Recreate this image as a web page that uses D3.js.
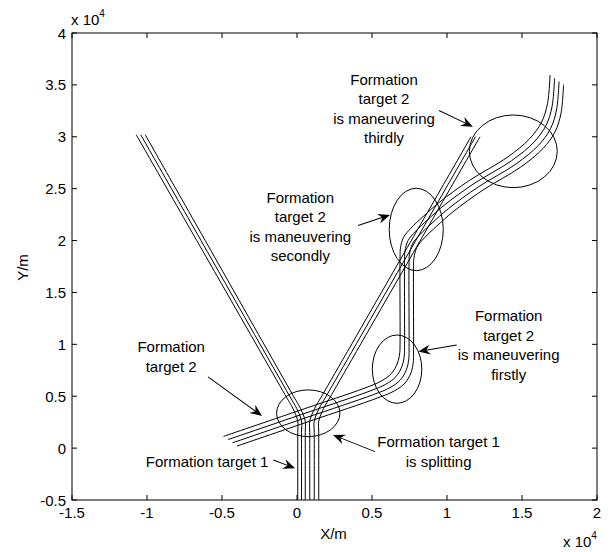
<!DOCTYPE html>
<html>
<head>
<meta charset="utf-8">
<script src="https://cdn.jsdelivr.net/npm/d3@7"></script>
<style>
  body { margin: 0; background: #fff; }
  svg { display: block; }
  text { font-family: "Liberation Sans", Arial, sans-serif; fill: #000; }
</style>
</head>
<body>
<svg id="chart" width="612" height="552"></svg>
<script>
// Axis ticks, in units of 10^4 m
const xTicks = [-1.5, -1, -0.5, 0, 0.5, 1, 1.5, 2];
const yTicks = [-0.5, 0, 0.5, 1, 1.5, 2, 2.5, 3, 3.5, 4];
const xTickLabels = ["-1.5", "-1", "-0.5", "0", "0.5", "1", "1.5", "2"];
const yTickLabels = ["-0.5", "0", "0.5", "1", "1.5", "2", "2.5", "3", "3.5", "4"];

// Formation target 1: six members heading north, splitting into two groups of three
const t1StartX = [0.005, 0.03, 0.055, 0.085, 0.115, 0.145];
const t1StartY = [-0.5, -0.5, -0.5, -0.5, -0.5, -0.5];
const t1SplitY = [0.3, 0.3, 0.3, 0.3, 0.3, 0.3];
const t1EndX = [-1.072, -1.042, -1.012, 1.16, 1.19, 1.22];
const t1EndY = [3.02, 3.02, 3.02, 3.0, 3.0, 3.0];

// Formation target 2: route of the lead member (three manoeuvres)
const t2RouteX = [-0.49, 0.0, 0.45, 0.56, 0.63, 0.67, 0.685, 0.687, 0.687, 0.69, 0.71, 0.76, 0.84, 0.95, 1.15, 1.40, 1.55, 1.63, 1.67, 1.687];
const t2RouteY = [0.113, 0.355, 0.578, 0.645, 0.72, 0.82, 0.92, 1.0, 1.85, 1.93, 2.03, 2.12, 2.23, 2.37, 2.58, 2.80, 2.98, 3.14, 3.32, 3.595];
// Offsets of the four members from the lead
const t2OffsetX = [0, 0.03, 0.06, 0.09];
const t2OffsetY = [0, -0.031, -0.062, -0.093];

// Event ellipses: centre and radii
const ellCX = [0.075, 0.667, 0.795, 1.442];
const ellCY = [0.336, 0.761, 2.107, 2.86];
const ellRX = [0.211, 0.165, 0.18, 0.293];
const ellRY = [0.225, 0.329, 0.397, 0.35];

// Annotation arrows: tail -> tip
const arrTailX = [-0.593, -0.158, 0.52, 1.065, 0.407, 0.947];
const arrTailY = [0.686, -0.114, -0.034, 0.994, 2.145, 3.253];
const arrTipX = [-0.233, -0.013, 0.24, 0.809, 0.62, 1.173];
const arrTipY = [0.310, -0.194, 0.127, 0.93, 2.247, 3.097];

// Annotation texts: anchor point of the first line, alignment, lines
const noteX = [0.58, 0.022, 1.411, -0.839, 0.944, -0.191];
const noteY = [3.552, 2.415, 1.274, 0.975, 0.06, -0.127];
const noteAnchor = ["middle", "middle", "middle", "middle", "middle", "end"];
const noteLines = [
  ["Formation", "target 2", "is maneuvering", "thirdly"],
  ["Formation", "target 2", "is maneuvering", "secondly"],
  ["Formation", "target 2", "is maneuvering", "firstly"],
  ["Formation", "target 2"],
  ["Formation target 1", "is splitting"],
  ["Formation target 1"]
];

const svg = d3.select("#chart");
const plotL = 72, plotR = 597, plotT = 33, plotB = 500;
const x = d3.scaleLinear().domain([-1.5, 2]).range([plotL, plotR]);
const y = d3.scaleLinear().domain([-0.5, 4]).range([plotB, plotT]);
const fontSize = 15;
const lineGap = 19.5;

// ---- tracks
const trackLine = d3.line().x(d => x(d[0])).y(d => y(d[1])).curve(d3.curveCatmullRom.alpha(0.5));
const tracks = svg.append("g").attr("fill", "none").attr("stroke", "#000").attr("stroke-width", 1);

t1StartX.forEach((x0, i) => {
  const ys = t1SplitY[i];
  const ex = t1EndX[i], ey = t1EndY[i];
  const along = t => [x0 + (ex - x0) * t, ys + (ey - ys) * t];
  const pts = [[x0, t1StartY[i]], [x0, ys - 0.15], [x0, ys - 0.04], along(0.03), along(0.08), along(0.5), [ex, ey]];
  tracks.append("path").attr("d", trackLine(pts));
});

t2OffsetX.forEach((dx, k) => {
  const pts = t2RouteX.map((rx, j) => [rx + dx, t2RouteY[j] + t2OffsetY[k]]);
  tracks.append("path").attr("d", trackLine(pts));
});

// ---- event ellipses
svg.append("g").selectAll("ellipse").data(ellCX).join("ellipse")
  .attr("cx", d => x(d))
  .attr("cy", (d, i) => y(ellCY[i]))
  .attr("rx", (d, i) => x(d + ellRX[i]) - x(d))
  .attr("ry", (d, i) => y(ellCY[i] - ellRY[i]) - y(ellCY[i]))
  .attr("fill", "none").attr("stroke", "#000").attr("stroke-width", 1);

// ---- annotation arrows
const arrows = svg.append("g");
arrTailX.forEach((tx, i) => {
  const x1 = x(tx), y1 = y(arrTailY[i]), x2 = x(arrTipX[i]), y2 = y(arrTipY[i]);
  const ang = Math.atan2(y2 - y1, x2 - x1) * 180 / Math.PI;
  const len = Math.hypot(x2 - x1, y2 - y1);
  const g = arrows.append("g").attr("transform", `translate(${x2},${y2}) rotate(${ang})`);
  g.append("line").attr("x1", -len).attr("y1", 0).attr("x2", -6).attr("y2", 0)
    .attr("stroke", "#000").attr("stroke-width", 1);
  g.append("path").attr("d", "M0,0 L-12,-5 L-8,0 L-12,5 Z").attr("fill", "#000");
});

// ---- annotation texts
const notes = svg.append("g").attr("font-size", fontSize);
noteLines.forEach((lines, i) => {
  lines.forEach((s, j) => {
    notes.append("text")
      .attr("x", x(noteX[i]))
      .attr("y", y(noteY[i]) + j * lineGap + 5.5)
      .attr("text-anchor", noteAnchor[i])
      .text(s);
  });
});

// ---- axes box and inward ticks
const axes = svg.append("g").attr("stroke", "#000").attr("stroke-width", 1);
axes.append("rect").attr("x", plotL).attr("y", plotT).attr("width", plotR - plotL).attr("height", plotB - plotT).attr("fill", "none");
const tl = 5;
xTicks.forEach(v => {
  axes.append("line").attr("x1", x(v)).attr("x2", x(v)).attr("y1", plotB).attr("y2", plotB - tl);
  axes.append("line").attr("x1", x(v)).attr("x2", x(v)).attr("y1", plotT).attr("y2", plotT + tl);
});
yTicks.forEach(v => {
  axes.append("line").attr("x1", plotL).attr("x2", plotL + tl).attr("y1", y(v)).attr("y2", y(v));
  axes.append("line").attr("x1", plotR).attr("x2", plotR - tl).attr("y1", y(v)).attr("y2", y(v));
});

const labels = svg.append("g").attr("font-size", fontSize);
xTicks.forEach((v, i) => {
  labels.append("text").attr("x", x(v)).attr("y", plotB + 18).attr("text-anchor", "middle").text(xTickLabels[i]);
});
yTicks.forEach((v, i) => {
  labels.append("text").attr("x", plotL - 6).attr("y", y(v) + 5.5).attr("text-anchor", "end").text(yTickLabels[i]);
});

// axis titles
labels.append("text").attr("x", (plotL + plotR) / 2 - 1).attr("y", 539).attr("text-anchor", "middle").text("X/m");
labels.append("text").attr("transform", `translate(28,${(plotT + plotB) / 2 + 1}) rotate(-90)`)
  .attr("text-anchor", "middle").text("Y/m");

// exponent markers
function exponent(px, py) {
  const t = labels.append("text").attr("x", px).attr("y", py);
  t.append("tspan").text("x 10");
  t.append("tspan").attr("font-size", 10).attr("dy", -8).text("4");
}
exponent(plotL - 1, 25);
exponent(563, 547);
</script>
</body>
</html>
